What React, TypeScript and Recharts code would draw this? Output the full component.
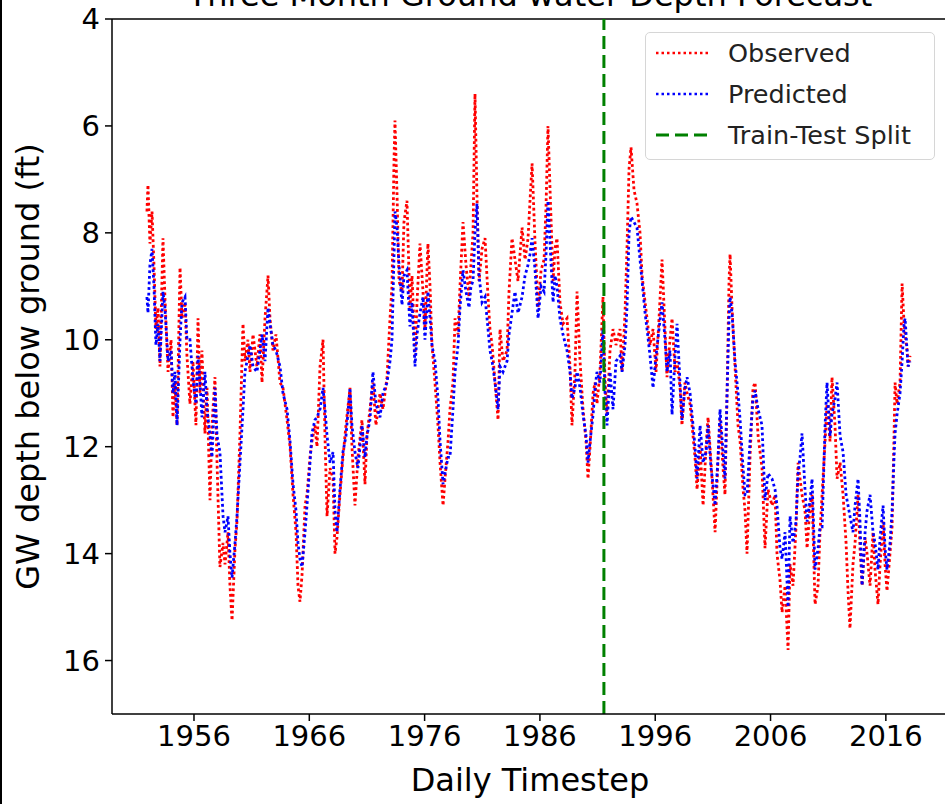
import React from 'react';
import { LineChart, Line, XAxis, YAxis, ReferenceLine } from 'recharts';

const years = [
  1951.92, 1952.01, 1952.18, 1952.36, 1952.53, 1952.70, 1952.88, 1953.05, 1953.31, 1953.48,
  1953.75, 1954.01, 1954.18, 1954.35, 1954.53, 1954.79, 1954.96, 1955.22, 1955.39, 1955.65,
  1955.91, 1956.17, 1956.35, 1956.52, 1956.69, 1956.95, 1957.13, 1957.39, 1957.56, 1957.82,
  1958.00, 1958.25, 1958.52, 1958.69, 1958.95, 1959.12, 1959.30, 1959.56, 1959.73, 1959.99,
  1960.25, 1960.42, 1960.68, 1960.86, 1961.12, 1961.46, 1961.72, 1961.90, 1962.16, 1962.42,
  1962.59, 1962.85, 1963.11, 1963.46, 1963.72, 1964.07, 1964.33, 1964.59, 1964.85, 1965.02,
  1965.19, 1965.37, 1965.63, 1965.80, 1966.06, 1966.23, 1966.49, 1966.67, 1966.93, 1967.19,
  1967.36, 1967.54, 1967.80, 1968.06, 1968.23, 1968.40, 1968.66, 1968.92, 1969.18, 1969.53,
  1969.70, 1969.96, 1970.22, 1970.57, 1970.83, 1971.00, 1971.26, 1971.52, 1971.78, 1972.13,
  1972.39, 1972.74, 1973.00, 1973.17, 1973.35, 1973.43, 1973.61, 1973.78, 1974.04, 1974.21,
  1974.47, 1974.73, 1974.91, 1975.17, 1975.34, 1975.60, 1975.86, 1976.03, 1976.29, 1976.47,
  1976.64, 1976.90, 1977.16, 1977.34, 1977.60, 1977.77, 1978.03, 1978.20, 1978.46, 1978.64,
  1978.90, 1979.07, 1979.33, 1979.59, 1979.85, 1980.02, 1980.20, 1980.37, 1980.54, 1980.72,
  1980.98, 1981.24, 1981.50, 1981.67, 1981.85, 1982.11, 1982.37, 1982.54, 1982.80, 1983.15,
  1983.32, 1983.58, 1983.84, 1984.10, 1984.45, 1984.71, 1984.97, 1985.14, 1985.32, 1985.58,
  1985.84, 1986.10, 1986.36, 1986.53, 1986.70, 1986.88, 1987.14, 1987.31, 1987.48, 1987.74,
  1988.00, 1988.35, 1988.61, 1988.78, 1989.04, 1989.22, 1989.48, 1989.74, 1990.00, 1990.17,
  1990.35, 1990.61, 1990.78, 1990.95, 1991.21, 1991.47, 1991.65, 1991.82, 1992.08, 1992.34,
  1992.60, 1992.95, 1993.12, 1993.38, 1993.55, 1993.73, 1993.90, 1994.16, 1994.42, 1994.68,
  1994.86, 1995.12, 1995.29, 1995.55, 1995.81, 1996.07, 1996.33, 1996.59, 1996.85, 1997.02,
  1997.28, 1997.46, 1997.72, 1997.89, 1998.15, 1998.32, 1998.58, 1998.76, 1999.02, 1999.28,
  1999.45, 1999.63, 1999.89, 2000.15, 2000.41, 2000.58, 2000.84, 2001.01, 2001.19, 2001.45,
  2001.62, 2001.88, 2002.05, 2002.23, 2002.40, 2002.49, 2002.66, 2002.92, 2003.18, 2003.36,
  2003.62, 2003.79, 2003.96, 2004.22, 2004.48, 2004.66, 2004.92, 2005.26, 2005.52, 2005.78,
  2006.13, 2006.39, 2006.56, 2006.82, 2007.00, 2007.26, 2007.52, 2007.69, 2007.95, 2008.21,
  2008.39, 2008.56, 2008.73, 2008.99, 2009.17, 2009.43, 2009.60, 2009.86, 2010.12, 2010.29,
  2010.47, 2010.73, 2010.90, 2011.16, 2011.33, 2011.59, 2011.77, 2012.03, 2012.29, 2012.55,
  2012.72, 2012.89, 2013.15, 2013.33, 2013.59, 2013.76, 2013.94, 2014.20, 2014.37, 2014.63,
  2014.89, 2015.06, 2015.32, 2015.50, 2015.76, 2015.93, 2016.10, 2016.36, 2016.54, 2016.71,
  2016.80, 2016.97, 2017.23, 2017.41, 2017.58, 2017.67, 2017.84, 2017.93, 2018.10,
];

const observed = [
  7.6, 7.1, 8.2, 7.6, 8.6, 9.8, 9.4, 10.5, 8.1, 9.2,
  10.6, 10.0, 11.45, 10.8, 11.6, 8.65, 9.6, 9.3, 10.3, 11.2,
  10.4, 11.6, 9.6, 11.0, 10.2, 11.75, 10.9, 13.0, 11.6, 10.7,
  12.3, 14.25, 13.8, 14.2, 13.6, 14.6, 15.25, 13.9, 13.4, 11.75,
  9.7, 10.4, 10.0, 10.6, 9.9, 10.5, 9.9, 10.8, 9.6, 8.8,
  9.6, 10.2, 9.9, 10.8, 10.9, 11.5, 12.0, 12.9, 13.6, 14.6,
  14.9, 14.4, 13.1, 12.9, 12.2, 11.9, 11.6, 12.0, 10.5, 10.0,
  11.8, 13.3, 12.4, 12.6, 14.0, 13.7, 12.9, 12.2, 11.6, 10.9,
  12.0, 13.1, 12.2, 11.5, 12.7, 11.8, 11.3, 10.8, 11.6, 11.0,
  11.3, 10.7, 9.6, 9.0, 6.6, 5.9, 7.3, 8.9, 9.1, 7.8,
  7.4, 9.4, 8.8, 10.3, 9.3, 8.2, 9.1, 9.8, 8.2, 9.0,
  10.1, 10.8, 11.6, 12.3, 13.1, 12.6, 11.9, 11.3, 10.8, 9.6,
  9.9, 9.0, 7.8, 8.6, 9.2, 8.6, 8.0, 5.4, 7.3, 8.9,
  8.3, 8.1, 9.2, 9.8, 10.1, 10.8, 11.5, 9.8, 10.4, 10.2,
  9.1, 8.1, 8.5, 8.9, 7.9, 8.5, 8.1, 7.4, 6.7, 8.2,
  9.4, 8.7, 8.5, 7.5, 6.0, 7.2, 8.9, 8.3, 8.1, 9.3,
  9.7, 9.6, 10.5, 11.6, 10.6, 9.1, 10.4, 11.3, 11.9, 12.6,
  12.0, 11.0, 10.8, 11.2, 10.6, 9.2, 10.8, 11.4, 10.2, 9.8,
  10.1, 9.8, 10.6, 9.5, 8.3, 6.8, 6.4, 7.2, 7.45, 8.0,
  8.8, 9.3, 9.6, 10.1, 9.8, 10.6, 9.6, 8.5, 9.8, 10.7,
  10.0, 9.6, 10.6, 10.4, 10.9, 11.6, 10.8, 11.0, 11.2, 11.8,
  12.2, 12.8, 12.0, 13.1, 12.0, 11.45, 12.3, 12.9, 13.6, 12.2,
  11.5, 12.4, 12.9, 11.0, 8.9, 8.4, 9.4, 10.5, 11.6, 11.9,
  12.8, 13.2, 14.0, 12.2, 10.9, 10.8, 11.8, 12.4, 13.9, 12.8,
  13.1, 12.9, 14.0, 14.5, 15.1, 14.6, 15.8, 14.2, 14.6, 13.5,
  12.3, 12.6, 12.9, 13.2, 13.9, 13.1, 12.9, 14.95, 14.6, 13.6,
  12.9, 11.9, 11.2, 11.9, 10.7, 11.6, 12.6, 12.3, 12.9, 13.8,
  14.7, 15.4, 14.2, 13.8, 12.9, 13.9, 14.6, 13.7, 14.0, 14.6,
  13.6, 14.3, 14.95, 14.2, 13.4, 14.2, 14.7, 14.0, 13.5, 11.8,
  10.8, 11.2, 10.8, 8.95, 9.7, 9.9, 10.2, 10.5, 10.3,
];

const predicted = [
  9.2, 9.5, 8.6, 8.3, 9.0, 10.1, 9.7, 10.4, 9.1, 9.4,
  10.4, 10.2, 11.0, 10.6, 11.6, 10.0, 9.3, 9.2, 10.0, 10.0,
  10.75, 11.2, 10.3, 10.8, 11.45, 10.6, 11.3, 11.8, 12.2, 10.9,
  11.8, 12.1, 13.3, 13.6, 13.3, 14.0, 14.45, 13.8, 13.3, 12.3,
  11.3, 10.6, 10.3, 10.1, 10.5, 10.6, 10.2, 9.9, 10.4, 9.4,
  9.7, 10.1, 10.2, 10.5, 11.0, 11.3, 11.9, 12.7, 13.2, 13.8,
  14.1, 14.25, 13.6, 13.1, 12.3, 11.75, 11.5, 11.45, 11.3, 10.9,
  11.3, 11.8, 12.3, 12.1, 13.2, 13.6, 12.8, 12.1, 11.8, 10.9,
  11.6, 12.1, 12.4, 11.6, 12.2, 11.8, 11.5, 10.6, 11.2, 11.45,
  11.0, 10.8, 10.4, 10.0, 8.4, 7.6, 7.9, 8.6, 9.35, 8.8,
  8.7, 9.75, 9.3, 10.5, 9.9, 9.5, 9.2, 10.0, 9.1, 9.6,
  10.1, 10.4, 11.1, 11.9, 12.7, 12.5, 12.2, 12.2, 11.3, 10.6,
  10.1, 9.4, 8.7, 9.1, 9.4, 9.0, 8.9, 8.0, 7.45, 8.8,
  9.3, 9.2, 9.8, 10.2, 10.4, 10.8, 11.3, 10.5, 10.6, 10.4,
  9.9, 9.5, 9.1, 9.5, 9.2, 8.8, 8.6, 8.4, 8.1, 8.7,
  9.6, 9.0, 9.1, 8.4, 7.4, 8.2, 9.3, 8.8, 9.0, 9.6,
  9.9, 10.2, 10.6, 11.1, 10.9, 10.6, 10.9, 11.4, 11.8, 12.3,
  11.9, 11.4, 10.9, 10.6, 10.8, 9.8, 11.0, 11.6, 10.6, 11.3,
  10.4, 10.3, 10.6, 10.1, 9.4, 8.0, 7.7, 7.8, 7.9, 8.5,
  8.9, 9.5, 9.8, 10.3, 10.9, 10.3, 9.8, 9.3, 10.0, 10.6,
  10.2, 11.4, 10.3, 9.7, 10.8, 11.5, 10.9, 10.7, 11.0, 11.6,
  12.0, 12.6, 11.6, 12.3, 12.1, 11.6, 12.4, 12.7, 13.1, 12.2,
  11.3, 12.1, 12.6, 11.0, 9.6, 9.2, 9.5, 10.4, 11.0, 11.5,
  12.4, 12.9, 12.9, 11.9, 11.1, 10.95, 11.3, 11.6, 13.0, 12.5,
  12.6, 12.8, 13.1, 13.9, 14.1, 13.6, 15.0, 13.3, 13.8, 13.4,
  12.5, 12.2, 11.75, 12.8, 13.4, 13.0, 12.6, 14.3, 13.9, 13.5,
  13.5, 11.6, 10.8, 11.8, 11.4, 11.1, 10.8, 11.8, 12.1, 12.9,
  13.1, 13.3, 13.6, 13.1, 12.6, 13.4, 14.6, 13.6, 13.2, 12.9,
  13.6, 13.8, 14.3, 13.7, 13.1, 13.9, 14.3, 13.8, 13.2, 12.2,
  11.75, 11.4, 11.0, 10.4, 9.7, 9.6, 10.2, 10.5, 10.4,
];

const xTicks = [1956, 1966, 1976, 1986, 1996, 2006, 2016];
const yTicks = [4, 6, 8, 10, 12, 14, 16];
const xDomain = [1948.89, 2021.39];
const yDomain = [4, 17];
const splitYear = 1991.55;

const seriesNames = ['Observed', 'Predicted', 'Train-Test Split'];
const titleText = 'Three Month Ground water Depth Forecast';
const xLabel = 'Daily Timestep';
const yLabel = 'GW depth below ground (ft)';

const FONT = "'DejaVu Sans', sans-serif";

const obsData = years.map((y, i) => ({ year: y, v: observed[i] }));
const predData = years.map((y, i) => ({ year: y, v: predicted[i] }));

const legendItems = [
  { name: seriesNames[0], color: '#ff0000', dash: '2.5 3', width: 2.5 },
  { name: seriesNames[1], color: '#0000ff', dash: '2.5 3', width: 2.5 },
  { name: seriesNames[2], color: '#008000', dash: '13 6', width: 3 },
];

export default function App() {
  return (
    <div
      style={{
        position: 'fixed',
        left: 0,
        top: 0,
        width: 945,
        height: 804,
        overflow: 'hidden',
        background: '#fff',
        fontFamily: FONT,
      }}
    >
      <LineChart
        width={960}
        height={804}
        margin={{ top: 19, right: 12, bottom: 0, left: 0 }}
      >
        <XAxis
          type="number"
          dataKey="year"
          domain={xDomain}
          allowDataOverflow
          ticks={xTicks}
          height={90}
          tickSize={7}
          tickMargin={4}
          tick={{ fontSize: 29, fill: '#000', fontFamily: FONT }}
          tickLine={{ stroke: '#000', strokeWidth: 1.5 }}
          axisLine={{ stroke: '#000', strokeWidth: 1.5 }}
          label={{
            content: (props: any) => {
              const vb = props.viewBox || { x: 112, y: 714, width: 836 };
              return (
                <text
                  x={vb.x + vb.width / 2}
                  y={vb.y + 77}
                  textAnchor="middle"
                  fontSize={32}
                  fontFamily={FONT}
                  fill="#000"
                >
                  {xLabel}
                </text>
              );
            },
          }}
        />
        <YAxis
          type="number"
          domain={yDomain}
          allowDataOverflow
          reversed
          ticks={yTicks}
          width={112}
          tickSize={7}
          tickMargin={5}
          tick={{ fontSize: 29, fill: '#000', fontFamily: FONT }}
          tickLine={{ stroke: '#000', strokeWidth: 1.5 }}
          axisLine={{ stroke: '#000', strokeWidth: 1.5 }}
          label={{
            content: (props: any) => {
              const vb = props.viewBox || { x: 0, y: 19, height: 695 };
              const cx = vb.x + 39;
              const cy = vb.y + vb.height / 2;
              return (
                <text
                  x={cx}
                  y={cy}
                  transform={`rotate(-90 ${cx} ${cy})`}
                  textAnchor="middle"
                  fontSize={32}
                  fontFamily={FONT}
                  fill="#000"
                >
                  {yLabel}
                </text>
              );
            },
          }}
        />
        <ReferenceLine y={4} stroke="#000" strokeWidth={1.5} />
        <Line
          data={obsData}
          dataKey="v"
          type="linear"
          stroke="#ff0000"
          strokeWidth={2.8}
          strokeDasharray="2.8 2.8"
          dot={false}
          isAnimationActive={false}
          name={seriesNames[0]}
        />
        <Line
          data={predData}
          dataKey="v"
          type="linear"
          stroke="#0000ff"
          strokeWidth={2.8}
          strokeDasharray="2.8 2.8"
          dot={false}
          isAnimationActive={false}
          name={seriesNames[1]}
        />
        <ReferenceLine
          x={splitYear}
          stroke="#008000"
          strokeWidth={3}
          strokeDasharray="13 6"
        />
      </LineChart>

      <div
        style={{
          position: 'absolute',
          left: 0,
          top: -23,
          width: 1060,
          height: 37,
          lineHeight: '37px',
          textAlign: 'center',
          fontSize: 32,
          color: '#000',
          whiteSpace: 'nowrap',
        }}
      >
        {titleText}
      </div>

      <div
        style={{
          position: 'absolute',
          left: 645,
          top: 32,
          width: 290,
          height: 128,
          boxSizing: 'border-box',
          border: '1.5px solid #d6d6d6',
          borderRadius: 5,
          background: 'rgba(255,255,255,0.85)',
        }}
      >
        {legendItems.map((it, i) => (
          <div
            key={it.name}
            style={{
              position: 'absolute',
              left: 0,
              top: 20 + i * 41 - 16,
              height: 32,
              width: 288,
            }}
          >
            <svg
              width={56}
              height={32}
              style={{ position: 'absolute', left: 9, top: 0 }}
            >
              <line
                x1={1}
                y1={16}
                x2={54}
                y2={16}
                stroke={it.color}
                strokeWidth={it.width}
                strokeDasharray={it.dash}
              />
            </svg>
            <span
              style={{
                position: 'absolute',
                left: 82,
                top: 0,
                lineHeight: '32px',
                fontSize: 25.5,
                color: '#222',
                whiteSpace: 'nowrap',
              }}
            >
              {it.name}
            </span>
          </div>
        ))}
      </div>

      <div
        style={{
          position: 'absolute',
          left: 0,
          top: 0,
          width: 2,
          height: 804,
          background: '#000',
        }}
      />
    </div>
  );
}
